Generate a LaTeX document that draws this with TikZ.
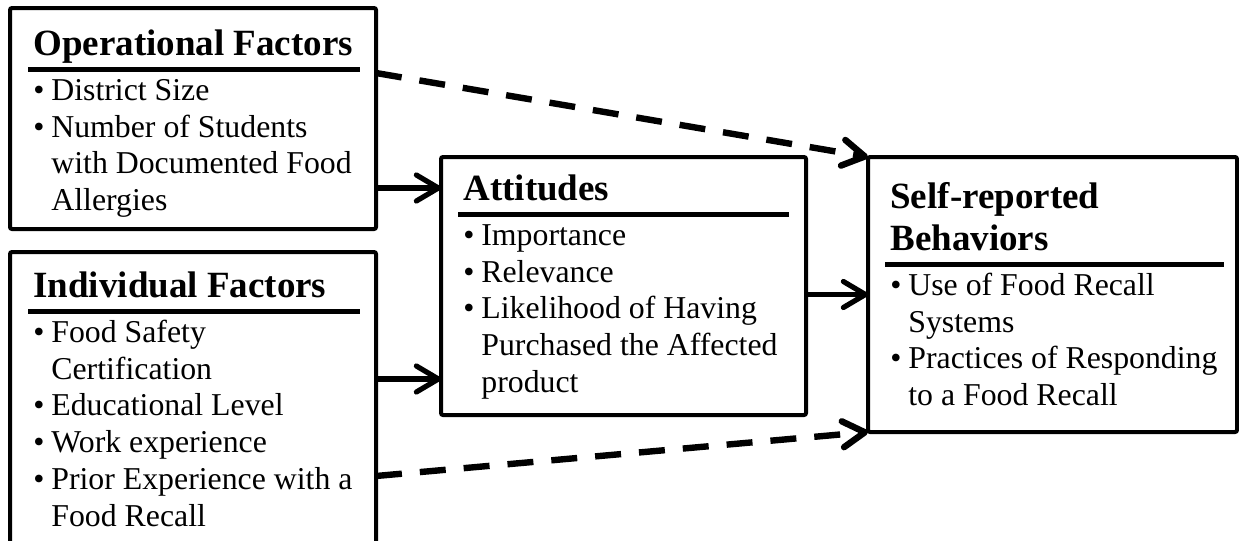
\documentclass[tikz,border=0pt]{standalone}
\usepackage{fontspec}
\setmainfont{Liberation Serif}
\usetikzlibrary{arrows.meta,positioning}
\newcommand\headfont{\fontsize{18.5pt}{21pt}\selectfont\bfseries}
\newcommand\bodyfont{\fontsize{15.9pt}{18.4pt}\selectfont}
\newcommand\boxhead[1]{{\headfont\noindent\strut #1\strut\par}%
  \nointerlineskip\vskip-0.55pt\hrule height 2.5pt\vskip1.3pt}
\newcommand\itm[1]{\par\hangindent=9pt\hangafter=1\noindent\strut
  \makebox[9pt][l]{\textbullet}#1\par}
\tikzset{
  factorbox/.style={draw,line width=2pt,rounded corners=1pt,anchor=north west,
                    outer sep=0pt,inner sep=0pt},
  boxtext/.style  ={anchor=north west,inner sep=0pt,align=flush left,font=\bodyfont},
  flow/.style     ={-{Straight Barb[length=11pt,width=13pt,round]},line width=2.6pt},
  dflow/.style    ={flow,line width=3.2pt,dash pattern=on 13pt off 9pt},
}
\begin{document}
\begin{tikzpicture}[x=0.5pt,y=-0.5pt]
\useasboundingbox (0,0) rectangle (1239,541);
% boxes
\node[factorbox,minimum width=183pt,minimum height=110.5pt] (ops) at (10,8) {};
\node[factorbox,minimum width=183pt,minimum height=154pt] (ind) at (10,252) {};
\node[factorbox,minimum width=182.5pt,minimum height=129pt] (att) at (441,157) {};
\node[factorbox,minimum width=184.5pt,minimum height=137.5pt] (beh) at (868,157) {};
% box contents
\node[boxtext,text width=166pt] (opsText) at ([shift={(9pt,-8.8pt)}]ops.north west)
  {\leftskip=2.5pt\parindent=0pt\hyphenpenalty=10000\boxhead{Operational Factors}
   \itm{District Size}
   \itm{Number of Students\newline with Documented Food\newline Allergies}};
\node[boxtext,text width=166pt] (indText) at ([shift={(9pt,-7.8pt)}]ind.north west)
  {\leftskip=2.5pt\parindent=0pt\hyphenpenalty=10000\boxhead{Individual Factors}
   \itm{Food Safety\newline Certification}
   \itm{Educational Level}
   \itm{Work experience}
   \itm{Prior Experience with a\newline Food Recall}};
\node[boxtext,text width=165.5pt] (attText) at ([shift={(8.5pt,-6.8pt)}]att.north west)
  {\leftskip=2.5pt\parindent=0pt\hyphenpenalty=10000\boxhead{Attitudes}
   \itm{Importance}
   \itm{Relevance}
   \itm{Likelihood of Having\newline Purchased the Affected\newline product}};
\node[boxtext,text width=169.5pt] (behText) at ([shift={(8.5pt,-10.8pt)}]beh.north west)
  {\leftskip=2.5pt\parindent=0pt\hyphenpenalty=10000\boxhead{Self-reported\newline Behaviors}
   \itm{Use of Food Recall\newline Systems}
   \itm{Practices of Responding\newline to a Food Recall}};
% connectors
\coordinate (upIn) at ([yshift=-15.5pt]att.north west);
\coordinate (lowIn) at ([yshift=18pt]att.south west);
\coordinate (upOut) at ([yshift=-32.5pt]ops.north east);
\coordinate (lowOut) at ([yshift=-112pt]ind.north east);
\draw[flow] (upIn -| ops.east) -- (upIn);
\draw[flow] (lowIn -| ind.east) -- (lowIn);
\draw[flow] (att.east |- beh.west) -- (beh.west);
\draw[dflow] (upOut) -- (beh.north west);
\draw[dflow] (lowOut) -- (beh.south west);
\end{tikzpicture}
\end{document}
